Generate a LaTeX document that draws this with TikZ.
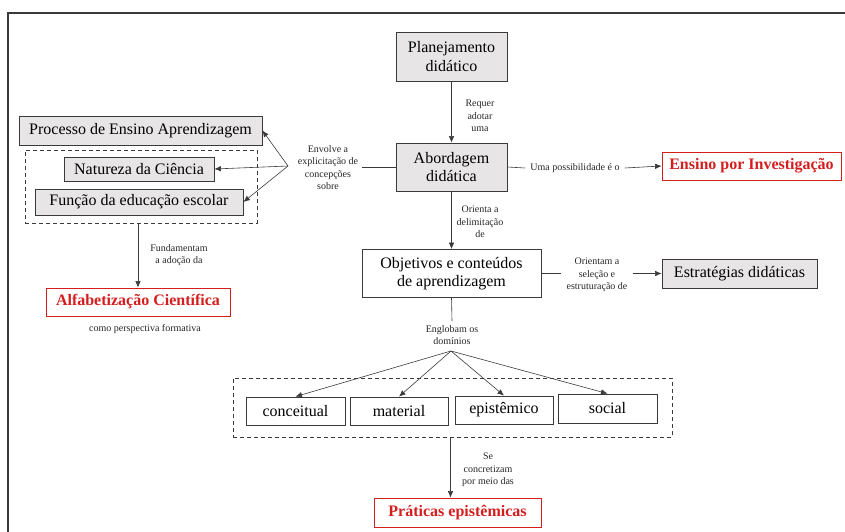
\documentclass[tikz,border=0pt]{standalone}
\usepackage{fontspec}
\setmainfont{Liberation Serif}
\usetikzlibrary{arrows.meta}
\definecolor{boxgray}{HTML}{E7E5E5}
\definecolor{edge}{HTML}{3A3A3A}
\definecolor{redtxt}{HTML}{D41E1E}
\tikzset{
  base/.style={draw=edge, line width=0.8pt, inner sep=0pt, align=center, font=\fontsize{16}{18.5}\selectfont},
  gbox/.style={base, fill=boxgray},
  wbox/.style={base, fill=white},
  rbox/.style={draw=redtxt, line width=0.8pt, inner sep=0pt, align=center, text=redtxt, font=\fontsize{16}{18.5}\selectfont\bfseries},
  lbl/.style={align=center, inner sep=4pt, text=black!85, font=\fontsize{10}{12.5}\selectfont},
  dashbox/.style={draw=edge, line width=0.9pt, dash pattern=on 4pt off 3pt, inner sep=0pt},
  conn/.style={draw=edge, line width=0.6pt},
  arr/.style={conn, -{Latex[length=6.5pt,width=5.5pt]}},
}
\begin{document}
\begin{tikzpicture}[x=1pt,y=-1pt]
\useasboundingbox (0,0) rectangle (845,532);
% frame
\draw[edge, line width=1.4pt] (8,532) -- (8,13) -- (845,13);

% central column
\node[gbox, minimum width=111, minimum height=49] (plan) at (451.5,56.5) {Planejamento\\didático};
\node[gbox, minimum width=111, minimum height=48] (abord) at (451.5,167) {Abordagem\\didática};
\node[wbox, minimum width=179, minimum height=48] (obj) at (451.5,273.5) {Objetivos e conteúdos\\de aprendizagem};

\node[lbl] (requer) at (480,116) {Requer\\adotar\\uma};
\draw[arr] (plan.south) -- (abord.north);

\node[lbl] (orienta) at (480,222) {Orienta a\\delimitação\\de};
\draw[arr] (abord.south) -- (obj.north);

% right side
\node[rbox, minimum width=179, minimum height=28] (ensino) at (751.5,166) {Ensino por Investigação};
\node[lbl, inner sep=5pt] (upos) at (575,168) {Uma possibilidade é o};
\draw[conn] (abord.east) -- (upos.west);
\draw[arr] (upos.east) -- (ensino.west);

\node[gbox, minimum width=155, minimum height=29] (estr) at (739.5,273.5) {Estratégias didáticas};
\node[lbl, inner sep=5pt] (ori) at (597,275) {Orientam a\\seleção e\\estruturação de};
\draw[conn] (obj.east) -- (ori.west |- obj.east);
\draw[arr] (ori.east |- estr.west) -- (estr.west);

% left side
\node[gbox, minimum width=243, minimum height=29] (proc) at (140.5,130.5) {Processo de Ensino Aprendizagem};
\node[dashbox, minimum width=232, minimum height=73] (dashL) at (141,186.5) {};
\node[gbox, minimum width=150, minimum height=24] (nat) at (139,169) {Natureza da Ciência};
\node[gbox, minimum width=208, minimum height=26] (func) at (139,202) {Função da educação escolar};

\node[lbl] (env) at (328,167.5) {Envolve a\\explicitação de\\concepções\\sobre};
\coordinate (conv) at (288,166);
\draw[conn] (abord.west) -- (env.east |- abord.west);
\draw[arr] (conv) -- (proc.east);
\draw[arr] (conv) -- (nat.east);
\draw[arr] (conv) -- (func.east);

\node[rbox, minimum width=184, minimum height=28] (alf) at (138,302) {Alfabetização Científica};
\node[lbl] (fund) at (179,255) {Fundamentam\\a adoção da};
\draw[arr] (alf.north |- dashL.south) -- (alf.north);
\node[lbl] (cpf) at (145,329) {como perspectiva formativa};

% domains
\node[lbl] (engl) at (452,335) {Englobam os\\domínios};
\draw[conn] (obj.south) -- (engl.north);
\coordinate (fan) at (451,351);

\node[dashbox, minimum width=439, minimum height=59] (dashD) at (452.5,407.5) {};
\node[wbox, minimum width=99, minimum height=28] (conc) at (295.5,411) {conceitual};
\node[wbox, minimum width=98, minimum height=28] (mat) at (399,411) {material};
\node[wbox, minimum width=98, minimum height=28] (epi) at (504,410) {epistêmico};
\node[wbox, minimum width=99, minimum height=29] (soc) at (607.5,408.5) {social};
\draw[arr] (fan) -- (conc.north);
\draw[arr] (fan) -- (mat.north);
\draw[arr] (fan) -- (epi.north);
\draw[arr] (fan) -- (soc.north);

\node[rbox, minimum width=167, minimum height=29] (prat) at (457.5,512.5) {Práticas epistêmicas};
\node[lbl] (secon) at (488,470) {Se\\concretizam\\por meio das};
\draw[arr] ([xshift=-7pt]prat.north |- dashD.south) -- ([xshift=-7pt]prat.north);
\end{tikzpicture}
\end{document}
